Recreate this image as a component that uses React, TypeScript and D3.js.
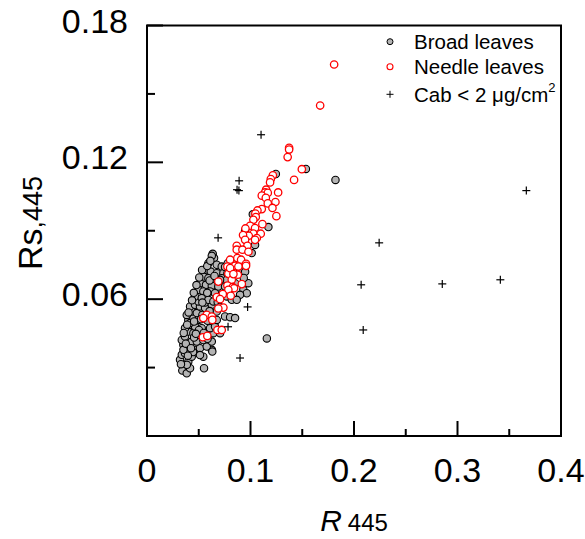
import React from "react";
import * as d3 from "d3";

const xTicksMajor = [0, 0.1, 0.2, 0.3, 0.4];
const xTicksMinor = [0.05, 0.15, 0.25, 0.35];
const yTicksMajor = [0.06, 0.12, 0.18];
const yTicksMinor = [0.03, 0.09, 0.15];
const xTickLabels = ["0", "0.1", "0.2", "0.3", "0.4"];
const yTickLabels = ["0.06", "0.12", "0.18"];

const legendLabels = ["Broad leaves", "Needle leaves", "Cab < 2 "];

// Broad leaves [R445, Rs445]
const broadLeaves: [number, number][] = [
  [0.0341, 0.0287], [0.0384, 0.0275], [0.0416, 0.0297], [0.0399, 0.0326], [0.0551, 0.0297],
  [0.0319, 0.0334], [0.0336, 0.0356], [0.0367, 0.0363], [0.0432, 0.0348], [0.0464, 0.0378],
  [0.0544, 0.0348], [0.0626, 0.0378], [0.0512, 0.0385], [0.0577, 0.0392], [0.0399, 0.0392],
  [0.0351, 0.04], [0.0336, 0.0421], [0.0367, 0.0436], [0.0432, 0.0414], [0.0481, 0.0414],
  [0.0544, 0.0421], [0.0626, 0.0414], [0.0399, 0.0458], [0.0448, 0.0451], [0.0496, 0.0443],
  [0.0577, 0.0451], [0.0641, 0.0451], [0.0367, 0.0473], [0.0416, 0.0487], [0.0464, 0.048],
  [0.0529, 0.0473], [0.0609, 0.0473], [0.0657, 0.048], [0.0399, 0.0509], [0.0448, 0.0517],
  [0.0496, 0.0509], [0.0416, 0.0495], [0.0384, 0.0531], [0.0432, 0.0546], [0.0481, 0.0539],
  [0.0641, 0.0509], [0.0626, 0.0539], [0.0674, 0.0546], [0.0416, 0.0568], [0.0464, 0.0575],
  [0.0512, 0.0568], [0.0561, 0.0561], [0.0496, 0.059], [0.0561, 0.0585], [0.0626, 0.0575],
  [0.0754, 0.0524], [0.0803, 0.0521], [0.0851, 0.0517], [0.0674, 0.0509], [0.0706, 0.0451],
  [0.0631, 0.037], [0.0635, 0.0799], [0.0648, 0.078], [0.0593, 0.0758], [0.0674, 0.0751],
  [0.0722, 0.0743], [0.0561, 0.0729], [0.0616, 0.0721], [0.0674, 0.0714], [0.0738, 0.0714],
  [0.0544, 0.0699], [0.0593, 0.0692], [0.0657, 0.0685], [0.0722, 0.0692], [0.0771, 0.0685],
  [0.0512, 0.067], [0.057, 0.0663], [0.0626, 0.0659], [0.0689, 0.0655], [0.0754, 0.0655],
  [0.0496, 0.0641], [0.0544, 0.0634], [0.0609, 0.0634], [0.0657, 0.0626], [0.0722, 0.0619],
  [0.0464, 0.0612], [0.0529, 0.0605], [0.0593, 0.0597], [0.0641, 0.059], [0.0771, 0.0612],
  [0.0819, 0.0597], [0.0931, 0.0641], [0.0964, 0.0626], [0.0899, 0.0619], [0.0867, 0.0597],
  [0.0979, 0.067], [0.1535, 0.1171], [0.1821, 0.1123], [0.1245, 0.1149], [0.1022, 0.0972],
  [0.1173, 0.0916], [0.0948, 0.0902], [0.1044, 0.0838], [0.1012, 0.0802], [0.1158, 0.0428],
  [0.0626, 0.079], [0.0754, 0.0741], [0.078, 0.0758], [0.0706, 0.0685], [0.0777, 0.0714],
  [0.0803, 0.0641], [0.0851, 0.067], [0.0899, 0.0729], [0.0832, 0.0764], [0.0948, 0.072],
  [0.0935, 0.0693], [0.0683, 0.0588], [0.0705, 0.0566], [0.0585, 0.0505], [0.0535, 0.0531],
  [0.0455, 0.0432], [0.0502, 0.0465], [0.0585, 0.0426], [0.0512, 0.0355], [0.0385, 0.0312],
  [0.0352, 0.0378], [0.0375, 0.0405], [0.0355, 0.0452], [0.0388, 0.0488], [0.0402, 0.0542],
  [0.0435, 0.0595], [0.0452, 0.0628], [0.0478, 0.0662], [0.0505, 0.0695], [0.0532, 0.0728],
  [0.0582, 0.0745], [0.0612, 0.0768], [0.0445, 0.0368], [0.0472, 0.0448], [0.0455, 0.0502],
  [0.0522, 0.0512], [0.0535, 0.0585], [0.0582, 0.0628], [0.0605, 0.0682], [0.0652, 0.0702],
  [0.0395, 0.0352], [0.0425, 0.0385], [0.0328, 0.0315], [0.0548, 0.0452], [0.0605, 0.0548],
];

// Needle leaves [R445, Rs445]
const needleLeaves: [number, number][] = [
  [0.1808, 0.1629], [0.1673, 0.1449], [0.1373, 0.1264], [0.1373, 0.1256], [0.1359, 0.1223],
  [0.1496, 0.117], [0.1421, 0.1123], [0.1216, 0.1143], [0.1196, 0.1127], [0.1189, 0.1112],
  [0.1151, 0.108], [0.1141, 0.1068], [0.1167, 0.1066], [0.1267, 0.1068], [0.1109, 0.1054],
  [0.1148, 0.1044], [0.1167, 0.102], [0.1241, 0.1026], [0.1212, 0.1], [0.1109, 0.0995],
  [0.1067, 0.0989], [0.1047, 0.0975], [0.1051, 0.096], [0.125, 0.0964], [0.1028, 0.0948],
  [0.1115, 0.0929], [0.0996, 0.0922], [0.1044, 0.0912], [0.0951, 0.091], [0.1028, 0.0888],
  [0.1099, 0.0887], [0.0983, 0.0878], [0.0928, 0.0881], [0.1061, 0.0868], [0.1044, 0.086],
  [0.0948, 0.086], [0.0867, 0.0834], [0.097, 0.0834], [0.0867, 0.0817], [0.0922, 0.0817],
  [0.098, 0.0808], [0.0803, 0.0773], [0.0873, 0.078], [0.0909, 0.0773], [0.0851, 0.0746],
  [0.0957, 0.0755], [0.0777, 0.0743], [0.0877, 0.0707], [0.0786, 0.0711], [0.0819, 0.0685],
  [0.0689, 0.0677], [0.0916, 0.0666], [0.0777, 0.066], [0.0829, 0.0653], [0.0957, 0.0746],
  [0.0883, 0.0743], [0.0803, 0.0736], [0.0835, 0.071], [0.0841, 0.0648], [0.0786, 0.0641],
  [0.0732, 0.0622], [0.0809, 0.0615], [0.0674, 0.0609], [0.0706, 0.06], [0.0738, 0.0563],
  [0.0689, 0.0559], [0.0577, 0.0531], [0.0626, 0.0524], [0.0544, 0.0517], [0.0631, 0.0509],
  [0.068, 0.0465], [0.0722, 0.0465], [0.0539, 0.0433], [0.0583, 0.0439],
];

// Cab < 2 ug/cm2 [R445, Rs445]
const lowCab: [number, number][] = [
  [0.1102, 0.1321], [0.089, 0.1119], [0.087, 0.108], [0.0888, 0.1076], [0.0687, 0.0869],
  [0.0972, 0.0566], [0.0783, 0.0479], [0.0899, 0.0342], [0.2243, 0.0847], [0.2069, 0.0663],
  [0.2089, 0.0465], [0.2853, 0.0667], [0.3414, 0.0685], [0.3665, 0.1076],
];

const W = 585;
const H = 539;
const X0 = 147, X1 = 561, Y0 = 436, Y1 = 25.5;
const FONT = "Arial, 'Liberation Sans', sans-serif";

export default function App() {
  const x = d3.scaleLinear().domain([0, 0.4]).range([X0, X1]);
  const y = d3.scaleLinear().domain([0, 0.18]).range([Y0, Y1]);
  const r = 3.7;
  const cs = 4;

  const cross = (cx: number, cy: number, s: number, key: string, sw = 1.2) => (
    <g key={key} stroke="#000" strokeWidth={sw}>
      <line x1={cx - s} x2={cx + s} y1={cy} y2={cy} />
      <line x1={cx} x2={cx} y1={cy - s} y2={cy + s} />
    </g>
  );

  return (
    <svg width={W} height={H} style={{ position: "absolute", left: 0, top: 0, background: "#fff" }} fontFamily={FONT}>
      <rect x={0} y={0} width={W} height={H} fill="#fff" />
      <g>
        {broadLeaves.map((d, i) => (
          <circle key={"b" + i} cx={x(d[0])} cy={y(d[1])} r={r} fill="#b4b4b4" stroke="#000" strokeWidth={1.1} />
        ))}
        {needleLeaves.map((d, i) => (
          <circle key={"n" + i} cx={x(d[0])} cy={y(d[1])} r={r} fill="#fff" stroke="#ff0000" strokeWidth={1.3} />
        ))}
        {lowCab.map((d, i) => cross(x(d[0]), y(d[1]), cs, "c" + i))}
      </g>
      <rect x={X0} y={Y1} width={X1 - X0} height={Y0 - Y1} fill="none" stroke="#000" strokeWidth={2} />
      {xTicksMajor.map((t) => (
        <line key={"xm" + t} x1={x(t)} x2={x(t)} y1={Y0} y2={Y0 - 15} stroke="#000" strokeWidth={2} />
      ))}
      {xTicksMinor.map((t) => (
        <line key={"xn" + t} x1={x(t)} x2={x(t)} y1={Y0} y2={Y0 - 7} stroke="#000" strokeWidth={2} />
      ))}
      {yTicksMajor.map((t) => (
        <line key={"ym" + t} x1={X0} x2={X0 + 16} y1={y(t)} y2={y(t)} stroke="#000" strokeWidth={2} />
      ))}
      {yTicksMinor.map((t) => (
        <line key={"yn" + t} x1={X0} x2={X0 + 8} y1={y(t)} y2={y(t)} stroke="#000" strokeWidth={2} />
      ))}
      {xTicksMajor.map((t, i) => (
        <text key={"xl" + t} x={x(t)} y={482} textAnchor="middle" fontSize={34} fill="#000">
          {xTickLabels[i]}
        </text>
      ))}
      {yTicksMajor.map((t, i) => (
        <text key={"yl" + t} x={128} y={y(t) + 7} textAnchor="end" fontSize={34} fill="#000">
          {yTickLabels[i]}
        </text>
      ))}
      <text x={354} y={531} textAnchor="middle" fill="#000">
        <tspan fontSize={30} fontStyle="italic">R</tspan>
        <tspan fontSize={24} dx={6}>445</tspan>
      </text>
      <text transform="translate(42,223) rotate(-90)" textAnchor="middle" fill="#000">
        <tspan fontSize={34}>Rs</tspan>
        <tspan fontSize={27}>,445</tspan>
      </text>
      <circle cx={390} cy={41.7} r={3} fill="#b4b4b4" stroke="#000" strokeWidth={1} />
      <circle cx={390} cy={66.7} r={3} fill="#fff" stroke="#ff0000" strokeWidth={1.1} />
      {cross(390, 94.3, 3.5, "lc", 1)}
      <text x={414} y={48.5} fontSize={20.5} fill="#000">{legendLabels[0]}</text>
      <text x={414} y={73.5} fontSize={20.5} fill="#000">{legendLabels[1]}</text>
      <text x={414} y={101.5} fontSize={20.5} fill="#000">
        {legendLabels[2]}
        <tspan>μg/cm</tspan>
        <tspan fontSize={13} dy={-10}>2</tspan>
      </text>
    </svg>
  );
}
